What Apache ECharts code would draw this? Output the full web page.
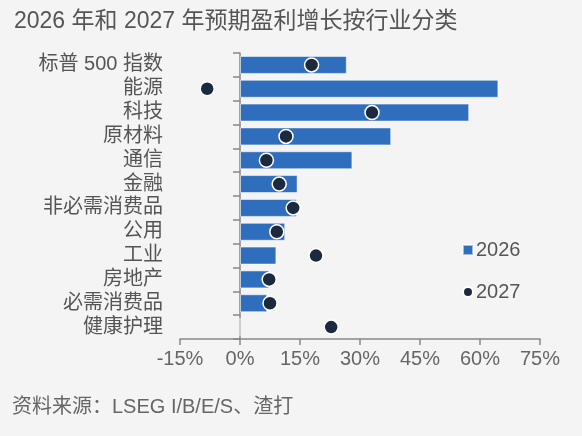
<!DOCTYPE html>
<html>
<head>
<meta charset="utf-8">
<script src="https://cdn.jsdelivr.net/npm/echarts@6/dist/echarts.min.js"></script>
<style>
  html, body { margin: 0; padding: 0; background: #f4f4f4; }
  #chart { width: 582px; height: 436px; }
</style>
</head>
<body>
<div id="chart"></div>
<script>
const sectors = ['标普 500 指数', '能源', '科技', '原材料', '通信', '金融', '非必需消费品', '公用', '工业', '房地产', '必需消费品', '健康护理'];
const growth2026 = [26.7, 64.6, 57.3, 37.8, 28.1, 14.4, 14.2, 11.3, 9.1, 7.3, 6.8, 0];
const growth2027 = [17.9, -8.2, 33.0, 11.5, 6.6, 9.8, 13.3, 9.2, 19.0, 7.3, 7.5, 22.8];
const xTicks = { min: -15, max: 75, step: 15 };

const font = '"Liberation Sans", Arial, "Noto Sans CJK SC", sans-serif';

const chart = echarts.init(document.getElementById('chart'));
chart.setOption({
    backgroundColor: '#f4f4f4',
    animation: false,
    textStyle: { fontFamily: font },
    title: {
        text: '2026 年和 2027 年预期盈利增长按行业分类',
        left: 9,
        top: 5,
        textStyle: { fontSize: 23, fontWeight: 'normal', color: '#555', fontFamily: font }
    },
    graphic: [{
        type: 'text',
        left: 12,
        top: 397,
        style: { text: '资料来源：LSEG I/B/E/S、渣打', fontSize: 20, fill: '#666', fontFamily: font }
    }],
    legend: {
        orient: 'vertical',
        left: 457,
        top: 235,
        itemGap: 22,
        itemWidth: 10,
        itemHeight: 10,
        textStyle: { fontSize: 20, color: '#555', fontFamily: font, padding: [0, 0, 0, -2] },
        data: [{ name: '2026', icon: 'rect' }, { name: '2027', icon: 'circle' }]
    },
    grid: { left: 180, right: 42, top: 53, bottom: 97, containLabel: false, outerBoundsMode: 'none' },
    xAxis: {
        type: 'value',
        min: xTicks.min,
        max: xTicks.max,
        interval: xTicks.step,
        axisLine: { show: true, lineStyle: { color: '#888', width: 1.5 } },
        axisTick: { show: true, length: 6, lineStyle: { color: '#888', width: 1.5 } },
        splitLine: { show: false },
        axisLabel: { formatter: '{value}%', fontSize: 20, color: '#666', margin: 10 }
    },
    yAxis: {
        type: 'category',
        inverse: true,
        data: sectors,
        axisLine: { show: true, onZero: true, lineStyle: { color: '#888', width: 1.5 } },
        axisTick: { show: true, length: 7, lineStyle: { color: '#888', width: 1.5 } },
        axisLabel: { fontSize: 20, color: '#555', margin: 17, interval: 0, hideOverlap: false }
    },
    series: [
        {
            name: '2026',
            type: 'bar',
            data: growth2026,
            barWidth: 18,
            itemStyle: { color: '#2f6ebd', borderColor: 'rgba(255,255,255,0.55)', borderWidth: 1 }
        },
        {
            name: '2027',
            type: 'scatter',
            data: growth2027,
            symbolSize: 14,
            itemStyle: { color: '#1c2a40', borderColor: '#fff', borderWidth: 1.5, opacity: 1 }
        }
    ]
});
</script>
</body>
</html>
